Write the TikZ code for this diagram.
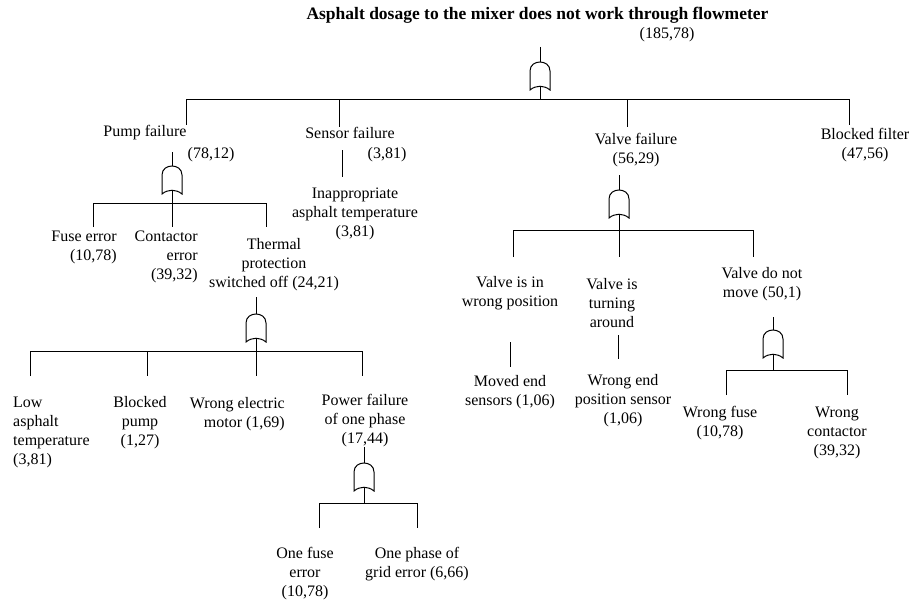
\documentclass[tikz,border=0pt]{standalone}
\usepackage{fontspec}
\setmainfont{Liberation Serif}
\begin{document}
\begin{tikzpicture}[x=1pt,y=-1pt,
  lbl/.style={inner sep=0pt, font=\fontsize{16}{19}\selectfont, align=center},
  ttl/.style={inner sep=0pt, font=\fontsize{17.5}{20}\selectfont\bfseries},
  conn/.style={line width=1pt},
  gateline/.style={line width=1pt, fill=white},
  orgate/.pic={
    \draw[gateline] (-10,0) .. controls (-4,-5) and (4,-5) .. (10,0) -- (10,-19)
      .. controls (10,-25) and (5,-28) .. (0,-28)
      .. controls (-5,-28) and (-10,-25) .. (-10,-19) -- cycle;
    \coordinate (-top) at (0,-28);
    \coordinate (-bot) at (0,-3.8);
  }]
\useasboundingbox[fill=white] (0,0) rectangle (914,602);

% ---------- top event ----------
\node[ttl] (title) at (537.5,15) {Asphalt dosage to the mixer does not work through flowmeter};
\node[lbl] (titlev) at (667,35) {(185,78)};
\coordinate (s0) at (540,47);
\pic (g0) at (540,90) {orgate};
\coordinate (j0) at (540,100);
\coordinate (b0a) at (186,100); \coordinate (d0a) at (186,125);
\coordinate (b0b) at (339,100); \coordinate (d0b) at (339,127);
\coordinate (b0c) at (627,100); \coordinate (d0c) at (627,127);
\coordinate (b0d) at (849,100); \coordinate (d0d) at (849,125);
\draw[conn] (s0) -- (g0-top);
\draw[conn] (g0-bot) -- (j0);
\draw[conn] (d0a) -- (b0a) -- (b0d) -- (d0d);
\draw[conn] (b0b) -- (d0b);
\draw[conn] (b0c) -- (d0c);

% ---------- pump failure ----------
\node[lbl] (pump) at (145,133) {Pump failure};
\node[lbl] (pumpv) at (211,155) {(78,12)};
\coordinate (s1) at (172,152);
\pic (g1) at (172,194) {orgate};
\coordinate (j1) at (172,203);
\coordinate (b1a) at (93,203); \coordinate (d1a) at (93,227);
\coordinate (d1b) at (172,227);
\coordinate (b1c) at (266,203); \coordinate (d1c) at (266,227);
\draw[conn] (s1) -- (g1-top);
\draw[conn] (g1-bot) -- (d1b);
\draw[conn] (d1a) -- (b1a) -- (b1c) -- (d1c);

\node[lbl, align=right, anchor=east] (fuse) at (117,247) {Fuse error\\(10,78)};
\node[lbl, align=right, anchor=east] (contactor) at (198,257) {Contactor\\error\\(39,32)};
\node[lbl] (thermal) at (274,265) {Thermal\\protection\\switched off (24,21)};

% ---------- thermal protection ----------
\coordinate (s2) at (256,297);
\pic (g2) at (256,342) {orgate};
\coordinate (b2a) at (30,351); \coordinate (d2a) at (30,376);
\coordinate (b2b) at (147,351); \coordinate (d2b) at (147,376);
\coordinate (d2c) at (256,376);
\coordinate (b2d) at (362,351); \coordinate (d2d) at (362,376);
\draw[conn] (s2) -- (g2-top);
\draw[conn] (g2-bot) -- (d2c);
\draw[conn] (d2a) -- (b2a) -- (b2d) -- (d2d);
\draw[conn] (b2b) -- (d2b);

\node[lbl, align=left, anchor=west] (low) at (13,432) {Low\\asphalt\\temperature\\(3,81)};
\node[lbl] (blocked) at (140,423) {Blocked\\pump\\(1,27)};
\node[lbl, align=right, anchor=east] (motor) at (285,414) {Wrong electric\\motor (1,69)};
\node[lbl] (power) at (365,421) {Power failure\\of one phase\\(17,44)};

% ---------- power failure of one phase ----------
\coordinate (s3) at (364,447);
\pic (g3) at (364,491) {orgate};
\coordinate (j3) at (364,503);
\coordinate (b3a) at (319,503); \coordinate (d3a) at (319,528);
\coordinate (b3b) at (417,503); \coordinate (d3b) at (417,528);
\draw[conn] (s3) -- (g3-top);
\draw[conn] (g3-bot) -- (j3);
\draw[conn] (d3a) -- (b3a) -- (b3b) -- (d3b);

\node[lbl] (onefuse) at (305,574) {One fuse\\error\\(10,78)};
\node[lbl] (onephase) at (417,564) {One phase of\\grid error (6,66)};

% ---------- sensor failure ----------
\node[lbl] (sensor) at (350,133) {Sensor failure};
\node[lbl] (sensorv) at (387,155) {(3,81)};
\coordinate (s4a) at (342,150); \coordinate (s4b) at (342,177);
\draw[conn] (s4a) -- (s4b);
\node[lbl] (inapp) at (355,214) {Inappropriate\\asphalt temperature\\(3,81)};

% ---------- valve failure ----------
\node[lbl] (valve) at (636,150) {Valve failure\\(56,29)};
\coordinate (s5) at (619,175);
\pic (g5) at (619,218) {orgate};
\coordinate (j5) at (619,230);
\coordinate (b5a) at (513,230); \coordinate (d5a) at (513,257);
\coordinate (d5b) at (619,257);
\coordinate (b5c) at (753,230); \coordinate (d5c) at (753,257);
\draw[conn] (s5) -- (g5-top);
\draw[conn] (g5-bot) -- (d5b);
\draw[conn] (d5a) -- (b5a) -- (b5c) -- (d5c);

\node[lbl] (wrongpos) at (510,293) {Valve is in\\wrong position};
\node[lbl] (turning) at (612,303) {Valve is\\turning\\around};
\node[lbl] (nomove) at (762,284) {Valve do not\\move (50,1)};

\coordinate (l6a) at (510,342); \coordinate (l6b) at (510,367);
\draw[conn] (l6a) -- (l6b);
\node[lbl] (moved) at (510,392) {Moved end\\sensors (1,06)};
\coordinate (l7a) at (618,335); \coordinate (l7b) at (618,359);
\draw[conn] (l7a) -- (l7b);
\node[lbl] (wrongend) at (623,401) {Wrong end\\position sensor\\(1,06)};

% ---------- valve do not move ----------
\coordinate (s8) at (773,317);
\pic (g8) at (773,358) {orgate};
\coordinate (j8) at (773,370);
\coordinate (b8a) at (726,370); \coordinate (d8a) at (726,395);
\coordinate (b8b) at (847,370); \coordinate (d8b) at (847,395);
\draw[conn] (s8) -- (g8-top);
\draw[conn] (g8-bot) -- (j8);
\draw[conn] (d8a) -- (b8a) -- (b8b) -- (d8b);

\node[lbl] (wfuse) at (720,423) {Wrong fuse\\(10,78)};
\node[lbl] (wcont) at (837,433) {Wrong\\contactor\\(39,32)};

% ---------- blocked filter ----------
\node[lbl] (filter) at (865,145) {Blocked filter\\(47,56)};
\end{tikzpicture}
\end{document}
